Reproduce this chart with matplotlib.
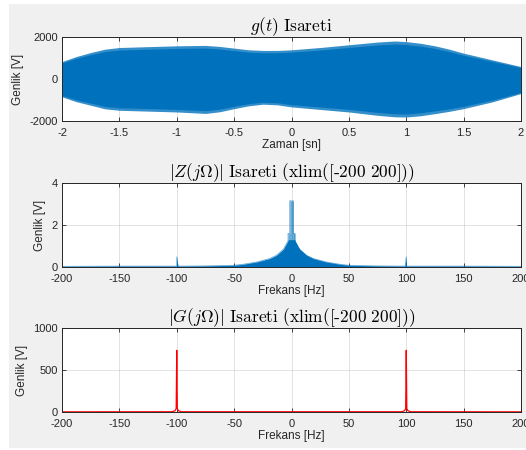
import numpy as np
import matplotlib
matplotlib.use("Agg")
import matplotlib.pyplot as plt
from matplotlib.patches import Rectangle

# ---- data ----
# g(t) envelope (upper / lower), in V
t_env = [-2.0, -1.875, -1.75, -1.625, -1.5, -1.25, -1.0, -0.75, -0.625, -0.5, -0.375, -0.25, -0.125,
         0.0, 0.25, 0.5, 0.75, 0.9, 1.0, 1.125, 1.25, 1.375, 1.5, 1.75, 2.0]
g_upper = [830, 1070, 1260, 1420, 1500, 1540, 1580, 1600, 1550, 1470, 1390, 1360, 1360,
           1390, 1500, 1630, 1760, 1810, 1780, 1700, 1580, 1420, 1230, 910, 590]
g_lower = [-850, -1080, -1250, -1420, -1490, -1530, -1570, -1640, -1560, -1410, -1280, -1200, -1230,
           -1330, -1450, -1570, -1730, -1800, -1810, -1750, -1650, -1540, -1410, -1090, -690]

# |Z(jΩ)| spectrum
z_freq = [-200, -150, -101, -100, -100, -99, -75, -50, -42, -30, -19, -13, -7, -5, -3, -3, -1.5, -1.5,
          1.5, 1.5, 3, 3, 5, 7, 13, 19, 30, 42, 50, 75, 99, 100, 100, 101, 150, 200]
z_mag = [0.03, 0.04, 0.04, 0.04, 0.48, 0.04, 0.05, 0.08, 0.13, 0.24, 0.4, 0.56, 0.85, 1.05, 1.25, 1.6, 1.6, 3.15,
         3.15, 1.6, 1.6, 1.25, 1.05, 0.85, 0.56, 0.4, 0.24, 0.13, 0.08, 0.05, 0.04, 0.48, 0.04, 0.04, 0.04, 0.03]

# |G(jΩ)| spectrum
g_freq = [-200, -104, -101.5, -100.5, -100, -99.5, -98.5, -96, 96, 98.5, 99.5, 100, 100.5, 101.5, 104, 200]
g_mag = [2, 3, 15, 40, 735, 40, 15, 3, 3, 15, 40, 735, 40, 15, 3, 2]

x1_ticks = [-2, -1.5, -1, -0.5, 0, 0.5, 1, 1.5, 2]
x1_labels = ["-2", "-1.5", "-1", "-0.5", "0", "0.5", "1", "1.5", "2"]
f_ticks = [-200, -150, -100, -50, 0, 50, 100, 150, 200]
f_labels = ["-200", "-150", "-100", "-50", "0", "50", "100", "150", "200"]

# ---- style ----
plt.rcParams['font.family'] = ['Liberation Sans', 'DejaVu Sans']
plt.rcParams['mathtext.fontset'] = 'cm'
DARK = '#262626'
BLUE = '#0072BD'
RED = '#FF0000'

W, H = 526, 450
fig = plt.figure(figsize=(W / 100, H / 100), dpi=100, facecolor='white')
fig.patches.append(Rectangle((9 / W, 2 / H), 1, (H - 6) / H, transform=fig.transFigure,
                             facecolor='#f0f0f0', edgecolor='none', zorder=-10))

def make_ax(top_px, bot_px):
    left = 62 / W
    width = (521 - 62) / W
    bottom = 1 - bot_px / H
    height = (bot_px - top_px) / H
    ax = fig.add_axes([left, bottom, width, height])
    ax.set_facecolor('white')
    for s in ax.spines.values():
        s.set_color(DARK)
        s.set_linewidth(0.7)
    ax.tick_params(direction='in', length=3, width=0.6, color=DARK, labelcolor=DARK,
                   labelsize=8, top=True, right=True)
    ax.tick_params(axis='x', pad=5)
    ax.tick_params(axis='y', pad=3)
    ax.grid(True, color=DARK, alpha=0.15, linewidth=0.6)
    ax.set_axisbelow(True)
    return ax

title_kw = dict(fontsize=12.5, pad=4, color='black')
label_kw = dict(fontsize=8.5, color=DARK)

# ---- g(t) ----
ax1 = make_ax(37, 121)
tu = np.array(t_env)
up = np.array(g_upper)
lo = np.array(g_lower)
ax1.fill_between(tu, lo, up, color=BLUE, alpha=0.8, linewidth=0)
ax1.fill_between(tu, lo * 0.92, up * 0.92, color=BLUE, linewidth=0)
ax1.set_xlim(-2, 2)
ax1.set_ylim(-2000, 2000)
ax1.set_xticks(x1_ticks, x1_labels)
ax1.set_yticks([-2000, 0, 2000], ["-2000", "0", "2000"])
ax1.set_title(r"$g(t)\ \mathrm{Isareti}$", **title_kw)
ax1.set_xlabel("Zaman [sn]", labelpad=1, **label_kw)
ax1.set_ylabel("Genlik [V]", **label_kw)

# ---- |Z(jΩ)| ----
ax2 = make_ax(183, 267)
zf = np.array(z_freq)
zm = np.array(z_mag)
ax2.fill_between(zf, 0, zm, color=BLUE, alpha=0.6, linewidth=0)
ax2.fill_between(zf, 0, np.minimum(zm, 1.3), color=BLUE, linewidth=0)
ax2.plot(zf, zm, color=BLUE, linewidth=0.6, alpha=0.6)
ax2.set_xlim(-200, 200)
ax2.set_ylim(0, 4)
ax2.set_xticks(f_ticks, f_labels)
ax2.set_yticks([0, 2, 4], ["0", "2", "4"])
ax2.set_title(r"$|Z(j\Omega)|\ \mathrm{Isareti\ (xlim([}\text{-}\mathrm{200\ 200]))}$", **title_kw)
ax2.set_xlabel("Frekans [Hz]", labelpad=1, **label_kw)
ax2.set_ylabel("Genlik [V]", **label_kw)

# ---- |G(jΩ)| ----
ax3 = make_ax(328, 412)
ax3.plot(g_freq, g_mag, color=RED, linewidth=0.9)
ax3.set_xlim(-200, 200)
ax3.set_ylim(0, 1000)
ax3.set_xticks(f_ticks, f_labels)
ax3.set_yticks([0, 500, 1000], ["0", "500", "1000"])
ax3.set_title(r"$|G(j\Omega)|\ \mathrm{Isareti\ (xlim([}\text{-}\mathrm{200\ 200]))}$", **title_kw)
ax3.set_xlabel("Frekans [Hz]", labelpad=1, **label_kw)
ax3.set_ylabel("Genlik [V]", **label_kw)

fig.savefig("out.png", dpi=100, facecolor=fig.get_facecolor())
